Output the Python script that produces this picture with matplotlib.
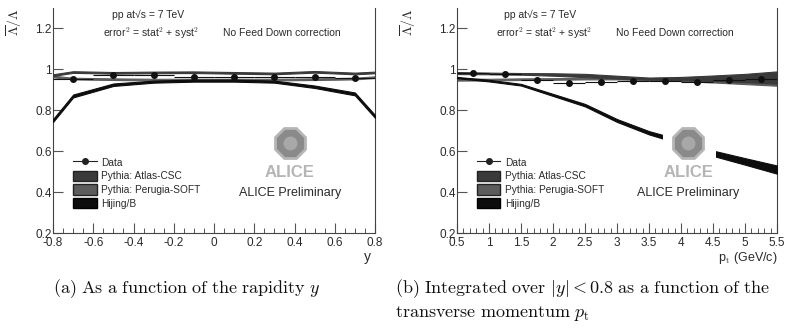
import matplotlib
matplotlib.use("Agg")
import matplotlib.pyplot as plt
from matplotlib.patches import Patch, Rectangle
from matplotlib.lines import Line2D

plt.rcParams["font.family"] = ["Liberation Sans", "DejaVu Sans"]
plt.rcParams["mathtext.fontset"] = "cm"

# ---- panel (a): ratio vs rapidity ----
y_data = [-0.7, -0.5, -0.3, -0.1, 0.1, 0.3, 0.5, 0.7]
ratio_y = [0.951, 0.974, 0.971, 0.965, 0.964, 0.964, 0.963, 0.956]
ratio_y_err = [0.006, 0.006, 0.006, 0.006, 0.006, 0.006, 0.006, 0.006]
y_binhw = [0.1] * 8

y_model = [-0.8, -0.7, -0.5, -0.3, -0.1, 0.1, 0.3, 0.5, 0.7, 0.8]
atlas_y = [0.972, 0.987, 0.983, 0.985, 0.986, 0.983, 0.980, 0.988, 0.980, 0.985]
atlas_y_hw = [0.004, 0.004, 0.004, 0.004, 0.004, 0.004, 0.004, 0.004, 0.004, 0.004]
perugia_y = [0.965, 0.955, 0.952, 0.950, 0.950, 0.950, 0.950, 0.952, 0.955, 0.962]
perugia_y_hw = [0.004, 0.004, 0.004, 0.004, 0.004, 0.004, 0.004, 0.004, 0.004, 0.004]
hijing_y = [0.75, 0.87, 0.925, 0.94, 0.945, 0.945, 0.94, 0.915, 0.88, 0.77]
hijing_y_hw = [0.007, 0.007, 0.006, 0.005, 0.005, 0.005, 0.005, 0.006, 0.007, 0.007]

# ---- panel (b): ratio vs pt ----
pt_data = [0.75, 1.25, 1.75, 2.25, 2.75, 3.25, 3.75, 4.25, 4.75, 5.25]
ratio_pt = [0.980, 0.977, 0.948, 0.935, 0.938, 0.945, 0.943, 0.940, 0.946, 0.955]
ratio_pt_err = [0.007, 0.007, 0.006, 0.006, 0.006, 0.006, 0.006, 0.006, 0.007, 0.008]
pt_binhw = [0.25] * 10

pt_model = [0.5, 1.0, 1.5, 2.0, 2.5, 3.0, 3.5, 4.0, 4.5, 5.0, 5.5]
atlas_pt = [0.982, 0.980, 0.978, 0.975, 0.970, 0.962, 0.955, 0.955, 0.957, 0.958, 0.960]
atlas_pt_hw = [0.005, 0.004, 0.004, 0.006, 0.008, 0.007, 0.005, 0.008, 0.013, 0.020, 0.030]
perugia_pt = [0.950, 0.950, 0.952, 0.953, 0.955, 0.955, 0.952, 0.950, 0.948, 0.946, 0.945]
perugia_pt_hw = [0.005, 0.004, 0.004, 0.004, 0.004, 0.004, 0.004, 0.007, 0.012, 0.018, 0.025]
hijing_pt = [0.960, 0.945, 0.925, 0.875, 0.825, 0.750, 0.690, 0.645, 0.590, 0.550, 0.510]
hijing_pt_hw = [0.003, 0.004, 0.004, 0.005, 0.006, 0.007, 0.008, 0.010, 0.013, 0.016, 0.020]

ATLAS_C = "#3a3a3a"
PERUGIA_C = "#5c5c5c"
HIJING_C = "#0d0d0d"
TXT = "#2a2a2a"


def band(ax, x, c, hw, color, z):
    lo = [a - b for a, b in zip(c, hw)]
    hi = [a + b for a, b in zip(c, hw)]
    ax.fill_between(x, lo, hi, facecolor=color, edgecolor=color,
                    linewidth=0.8, zorder=z)


def style_axes(ax, xmin, xmax, major, minor):
    ax.set_xlim(xmin, xmax)
    ax.set_ylim(0.2, 1.3)
    ax.set_xticks([round(xmin + i * major, 3)
                   for i in range(int(round((xmax - xmin) / major)) + 1)])
    ax.set_xticks([xmin + i * minor
                   for i in range(int(round((xmax - xmin) / minor)) + 1)],
                  minor=True)
    ax.set_yticks([0.2, 0.4, 0.6, 0.8, 1.0, 1.2])
    ax.set_yticklabels(["0.2", "0.4", "0.6", "0.8", "1", "1.2"])
    ax.tick_params(axis="both", which="major", direction="in", length=7,
                   width=0.8, labelsize=8.5, colors="#555", labelcolor=TXT,
                   pad=1)
    ax.tick_params(axis="x", which="major", pad=3)
    ax.tick_params(axis="x", which="minor", direction="in", length=3.5,
                   width=0.7, colors="#555")
    ax.tick_params(axis="y", which="minor", left=False)
    for side in ["left", "bottom", "right"]:
        ax.spines[side].set_color("#444")
        ax.spines[side].set_linewidth(0.8)
    ax.spines["top"].set_visible(False)


def decorations(ax, xpp, xerr_txt, xnofeed, xlogo):
    ax.text(xpp, 0.968, "pp at\u221as = 7 TeV", transform=ax.transAxes,
            fontsize=7.5, color=TXT, va="center")
    ax.text(xerr_txt, 0.889, r"error$^2$ = stat$^2$ + syst$^2$",
            transform=ax.transAxes, fontsize=7.5, color=TXT, va="center")
    ax.text(xnofeed, 0.889, "No Feed Down correction",
            transform=ax.transAxes, fontsize=7.5, color=TXT, va="center")
    ax.text(xlogo, 0.178, "ALICE Preliminary", transform=ax.transAxes,
            fontsize=9, color=TXT, ha="center", va="center", zorder=12)
    # ALICE logo
    ax.plot([xlogo], [0.40], marker="8", markersize=24,
            markerfacecolor="#8a8a8a", markeredgecolor="#b5b5b5",
            markeredgewidth=2, transform=ax.transAxes, zorder=12)
    ax.plot([xlogo], [0.40], marker="o", markersize=10,
            markerfacecolor="#b0b0b0", markeredgecolor="none",
            transform=ax.transAxes, zorder=12, alpha=0.8)
    ax.text(xlogo, 0.268, "ALICE", transform=ax.transAxes, fontsize=12,
            fontweight="bold", color="#b5b5b5", ha="center", va="center",
            zorder=12)

    handles = [
        Line2D([], [], color="#222", marker="o", markersize=4,
               linewidth=0.8),
        Patch(facecolor=ATLAS_C, edgecolor="#222"),
        Patch(facecolor=PERUGIA_C, edgecolor="#222"),
        Patch(facecolor=HIJING_C, edgecolor="#000"),
    ]
    labels = ["Data", "Pythia: Atlas-CSC", "Pythia: Perugia-SOFT", "Hijing/B"]
    leg = ax.legend(handles, labels, loc="lower left",
                    bbox_to_anchor=(0.05, 0.09), frameon=False, fontsize=7.3,
                    handlelength=2.3, handleheight=1.2, labelspacing=0.3,
                    handletextpad=0.45, borderaxespad=0)
    for t in leg.get_texts():
        t.set_color(TXT)


fig = plt.figure(figsize=(7.88, 3.28), dpi=100)
ax_a = fig.add_axes([0.0673, 0.2896, 0.4086, 0.686])
ax_b = fig.add_axes([0.5800, 0.2896, 0.4061, 0.686])

# panel (a)
band(ax_a, y_model, perugia_y, perugia_y_hw, PERUGIA_C, 2)
band(ax_a, y_model, atlas_y, atlas_y_hw, ATLAS_C, 3)
band(ax_a, y_model, hijing_y, hijing_y_hw, HIJING_C, 4)
ax_a.errorbar(y_data, ratio_y, yerr=ratio_y_err, xerr=y_binhw, fmt="o",
              color="#111", markersize=4, elinewidth=0.8, capsize=0,
              zorder=6)
style_axes(ax_a, -0.8, 0.8, 0.2, 0.05)
ax_a.set_xticklabels(["-0.8", "-0.6", "-0.4", "-0.2", "0", "0.2", "0.4",
                      "0.6", "0.8"])
decorations(ax_a, 0.183, 0.155, 0.528, 0.736)
ax_a.text(-0.12, 1.0, r"$\overline{\Lambda}/\Lambda$", transform=ax_a.transAxes,
          rotation=90, fontsize=10, color=TXT, ha="center", va="top")
ax_a.text(0.975, -0.075, "y", transform=ax_a.transAxes, fontsize=10,
          color=TXT, ha="center", va="top")

# panel (b)
band(ax_b, pt_model, perugia_pt, perugia_pt_hw, PERUGIA_C, 2)
band(ax_b, pt_model, atlas_pt, atlas_pt_hw, ATLAS_C, 3)
band(ax_b, pt_model, hijing_pt, hijing_pt_hw, HIJING_C, 4)
ax_b.errorbar(pt_data, ratio_pt, yerr=ratio_pt_err, xerr=pt_binhw, fmt="o",
              color="#111", markersize=4, elinewidth=0.8, capsize=0,
              zorder=6)
style_axes(ax_b, 0.5, 5.5, 0.5, 0.1)
ax_b.set_xticklabels(["0.5", "1", "1.5", "2", "2.5", "3", "3.5", "4", "4.5",
                      "5", "5.5"])
# white box behind the logo
ax_b.add_patch(Rectangle((0.645, 0.22), 0.165, 0.25, transform=ax_b.transAxes,
                         facecolor="white", edgecolor="none", zorder=11))
decorations(ax_b, 0.147, 0.122, 0.497, 0.722)
ax_b.text(-0.153, 1.0, r"$\overline{\Lambda}/\Lambda$", transform=ax_b.transAxes,
          rotation=90, fontsize=10, color=TXT, ha="center", va="top")
ax_b.text(1.0, -0.075, r"p$_\mathrm{t}$ (GeV/c)", transform=ax_b.transAxes,
          fontsize=9, color=TXT, ha="right", va="top")

# captions
fig.text(0.0673, 0.119,
         r"$\mathrm{(a)\ As\ a\ function\ of\ the\ rapidity}\ y$",
         fontsize=13, va="center", color="#111")
fig.text(0.501, 0.119,
         r"$\mathrm{(b)\ Integrated\ over}\ |y| < 0.8\ "
         r"\mathrm{as\ a\ function\ of\ the}$",
         fontsize=13, va="center", color="#111")
fig.text(0.501, 0.043, r"$\mathrm{transverse\ momentum}\ p_\mathrm{t}$",
         fontsize=13, va="center", color="#111")

fig.savefig("out.png", dpi=100)
